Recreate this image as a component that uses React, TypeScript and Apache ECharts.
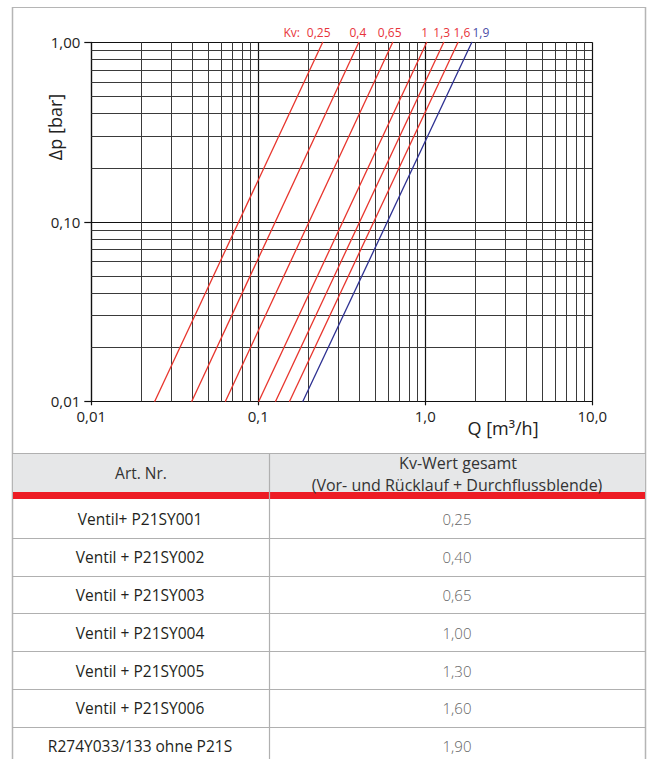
import React, { useEffect, useRef } from "react";
import * as echarts from "echarts";

// ---- data ----
const kvLabels = ["0,25", "0,4", "0,65", "1", "1,3", "1,6", "1,9"];
const dpMin = 0.01; // Δp at lower end of each line
const dpMax = 1.0; // Δp at upper end of each line
const qAtDpMin = [0.024, 0.04, 0.0636, 0.1007, 0.127, 0.154, 0.185];
const qAtDpMax = [0.243, 0.4, 0.638, 1.02, 1.29, 1.57, 1.9];

const xTickLabels = ["0,01", "0,1", "1,0", "10,0"];
const yTickLabels = ["0,01", "0,10", "1,00"];
const xMinorGrid = [
  0.02, 0.03, 0.04, 0.05, 0.06, 0.07, 0.08, 0.09,
  0.2, 0.3, 0.4, 0.5, 0.6, 0.7, 0.8, 0.9,
  2, 3, 4, 5, 6, 7, 8, 9,
];
const yMinorGrid = [
  0.02, 0.03, 0.04, 0.05, 0.06, 0.07, 0.08, 0.09,
  0.2, 0.3, 0.4, 0.5, 0.6, 0.7, 0.8, 0.9,
];

const tableArtNr = [
  "Ventil+ P21SY001",
  "Ventil + P21SY002",
  "Ventil + P21SY003",
  "Ventil + P21SY004",
  "Ventil + P21SY005",
  "Ventil + P21SY006",
  "R274Y033/133 ohne P21S",
];
const tableKvWert = ["0,25", "0,40", "0,65", "1,00", "1,30", "1,60", "1,90"];

// ---- styles ----
const FONT = "Open Sans";
const RED = "#e8342c";
const BLUE = "#2e3192";
const lineColors = [RED, RED, RED, RED, RED, RED, BLUE];
const labelColors = ["#e8343a", "#e8343a", "#e8343a", "#e8343a", "#e8343a", "#e8343a", "#4a4ea6"];
const labelDx = [-4, -1, -3, -2, -2, 4, 9];

function buildOption(): any {
  const series: any[] = [];
  series.push({
    type: "line",
    data: [],
    silent: true,
    z: 1,
    markLine: {
      silent: true,
      z: 1,
      symbol: ["none", "none"],
      label: { show: false },
      emphasis: { disabled: true },
      lineStyle: { color: "#3a3a3a", width: 1, type: "solid" },
      data: [
        ...xMinorGrid.map((v) => ({ xAxis: v })),
        ...yMinorGrid.map((v) => ({ yAxis: v })),
      ],
    },
  });
  kvLabels.forEach((lab, i) => {
    series.push({
      type: "line",
      z: 3,
      symbol: "circle",
      symbolSize: 1,
      itemStyle: { color: lineColors[i] },
      lineStyle: { color: lineColors[i], width: 1.3 },
      silent: true,
      clip: false,
      data: [
        { value: [qAtDpMin[i], dpMin] },
        {
          value: [qAtDpMax[i], dpMax],
          label: {
            show: true,
            position: "top",
            distance: 3,
            offset: [labelDx[i], 0],
            formatter: lab,
            color: labelColors[i],
            fontSize: 12,
            fontFamily: FONT,
          },
        },
      ],
    });
  });

  const graphic: any[] = [];
  const frameColor = "#b5b5b5";
  const rowLine = "#b0b0b0";
  // outer frame
  graphic.push({ type: "line", shape: { x1: 12.5, y1: 7, x2: 12.5, y2: 759 }, style: { stroke: frameColor, lineWidth: 1.5 } });
  graphic.push({ type: "line", shape: { x1: 645.5, y1: 7, x2: 645.5, y2: 759 }, style: { stroke: frameColor, lineWidth: 1.5 } });
  graphic.push({ type: "line", shape: { x1: 12, y1: 7.5, x2: 646, y2: 7.5 }, style: { stroke: frameColor, lineWidth: 1.2 } });
  // axis names
  graphic.push({
    type: "text", x: 55, y: 127, rotation: Math.PI / 2,
    style: { text: "Δp [bar]", fontSize: 18, fontFamily: FONT, fill: "#222", align: "center", verticalAlign: "middle" },
  });
  graphic.push({
    type: "text", x: 503, y: 428,
    style: { text: "Q [m³/h]", fontSize: 18, fontFamily: FONT, fill: "#222", align: "center", verticalAlign: "middle" },
  });
  graphic.push({
    type: "text", x: 300, y: 32,
    style: { text: "Kv:", fontSize: 12, fontFamily: FONT, fill: "#e8343a", align: "right", verticalAlign: "middle" },
  });
  // table header
  graphic.push({ type: "rect", shape: { x: 13, y: 454, width: 632, height: 38 }, style: { fill: "#e6e7e8" } });
  graphic.push({ type: "rect", shape: { x: 13, y: 492, width: 632, height: 7 }, style: { fill: "#ed1c24" } });
  graphic.push({ type: "line", shape: { x1: 12, y1: 453.5, x2: 646, y2: 453.5 }, style: { stroke: rowLine, lineWidth: 1.2 } });
  graphic.push({ type: "line", shape: { x1: 269.5, y1: 453, x2: 269.5, y2: 759 }, style: { stroke: rowLine, lineWidth: 1.2 } });
  graphic.push({
    type: "text", x: 141, y: 473,
    style: { text: "Art. Nr.", fontSize: 15.5, fontFamily: FONT, fill: "#333", align: "center", verticalAlign: "middle" },
  });
  graphic.push({
    type: "text", x: 458, y: 463,
    style: { text: "Kv-Wert gesamt", fontSize: 16, fontFamily: FONT, fill: "#333", align: "center", verticalAlign: "middle" },
  });
  graphic.push({
    type: "text", x: 457, y: 485,
    style: { text: "(Vor- und Rücklauf + Durchflussblende)", fontSize: 16, fontFamily: FONT, fill: "#333", align: "center", verticalAlign: "middle" },
  });
  tableArtNr.forEach((t, i) => {
    const cy = 519.3 + 37.8 * i;
    graphic.push({
      type: "text", x: 140, y: cy,
      style: { text: t, fontSize: 15.5, fontFamily: FONT, fill: "#231f20", align: "center", verticalAlign: "middle" },
    });
    graphic.push({
      type: "text", x: 457, y: cy,
      style: { text: tableKvWert[i], fontSize: 15, fontFamily: FONT, fontWeight: 300, fill: "#666", align: "center", verticalAlign: "middle" },
    });
    if (i < tableArtNr.length - 1) {
      const ly = Math.round(cy + 18.5) + 0.5;
      graphic.push({ type: "line", shape: { x1: 12, y1: ly, x2: 646, y2: ly }, style: { stroke: rowLine, lineWidth: 1.2 } });
    }
  });

  return {
    animation: false,
    backgroundColor: "#fff",
    textStyle: { fontFamily: FONT },
    grid: { left: 91.3, top: 42.3, width: 501, height: 359, containLabel: false },
    xAxis: {
      type: "log",
      logBase: 10,
      min: 0.01,
      max: 10,
      axisLine: { show: true, lineStyle: { color: "#111", width: 1.2 } },
      axisTick: { show: true, length: 4, lineStyle: { color: "#111", width: 1.2 } },
      axisLabel: {
        fontSize: 15, fontFamily: FONT, color: "#222", margin: 7,
        formatter: (v: number) => xTickLabels[Math.round(Math.log10(v)) + 2] ?? "",
      },
      splitLine: { show: true, lineStyle: { color: "#111", width: 1.2 } },
      minorTick: { show: false },
    },
    yAxis: {
      type: "log",
      logBase: 10,
      min: 0.01,
      max: 1,
      axisLine: { show: true, lineStyle: { color: "#111", width: 1.2 } },
      axisTick: { show: true, length: 7, lineStyle: { color: "#111", width: 1.2 } },
      axisLabel: {
        fontSize: 15, fontFamily: FONT, color: "#222", margin: 11,
        formatter: (v: number) => yTickLabels[Math.round(Math.log10(v)) + 2] ?? "",
      },
      splitLine: { show: true, lineStyle: { color: "#111", width: 1.2 } },
    },
    series,
    graphic,
  };
}

export default function App() {
  const ref = useRef<HTMLDivElement>(null);
  useEffect(() => {
    if (!ref.current) return;
    const chart = echarts.init(ref.current, null, { renderer: "svg", width: 648, height: 759 });
    chart.setOption(buildOption());
    return () => chart.dispose();
  }, []);
  return (
    <div
      ref={ref}
      style={{ position: "absolute", left: 0, top: 0, width: 648, height: 759, background: "#fff" }}
    />
  );
}
